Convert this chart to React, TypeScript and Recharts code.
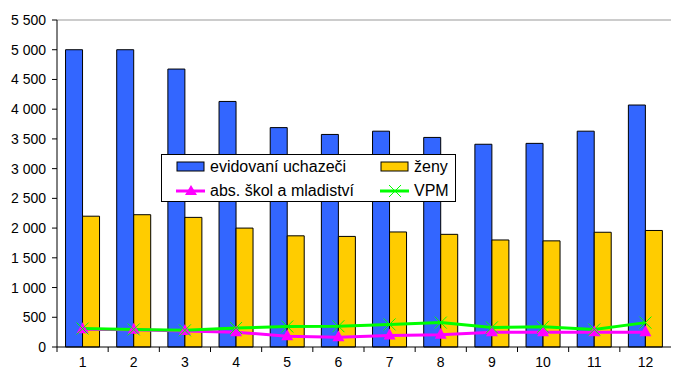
import {
  ComposedChart,
  Bar,
  Line,
  XAxis,
  YAxis,
  ReferenceLine,
  Legend,
} from "recharts";

const months = ["1", "2", "3", "4", "5", "6", "7", "8", "9", "10", "11", "12"];
const evidovani = [5000, 5000, 4675, 4130, 3690, 3575, 3630, 3525, 3410, 3425, 3630, 4070];
const zeny = [2200, 2225, 2180, 2000, 1870, 1860, 1935, 1895, 1800, 1785, 1930, 1960];
const absolventi = [300, 290, 270, 250, 180, 165, 195, 205, 250, 250, 250, 250];
const vpm = [310, 295, 280, 320, 345, 350, 380, 410, 330, 340, 295, 410];
const yTicks = [0, 500, 1000, 1500, 2000, 2500, 3000, 3500, 4000, 4500, 5000, 5500];

const data = months.map((m, i) => ({
  month: m,
  evidovani: evidovani[i],
  zeny: zeny[i],
  absolventi: absolventi[i],
  vpm: vpm[i],
}));

const BLUE = "#3366FF";
const YELLOW = "#FFCC00";
const MAGENTA = "#FF00FF";
const GREEN = "#00FF00";
const FONT = "'Liberation Sans', Arial, sans-serif";

const fmt = (v: number) => (v >= 1000 ? `${Math.floor(v / 1000)} ${String(v % 1000).padStart(3, "0")}` : `${v}`);

function Triangle(props: any) {
  const { cx, cy } = props;
  if (cx == null || cy == null) return null;
  return <path d={`M${cx},${cy - 7} L${cx + 6},${cy + 4} L${cx - 6},${cy + 4} Z`} fill={MAGENTA} />;
}

function Cross(props: any) {
  const { cx, cy } = props;
  if (cx == null || cy == null) return null;
  const s = 6;
  return (
    <g stroke={GREEN} strokeWidth={1}>
      <line x1={cx - s} y1={cy - s} x2={cx + s} y2={cy + s} />
      <line x1={cx - s} y1={cy + s} x2={cx + s} y2={cy - s} />
    </g>
  );
}

function MonthTick(props: any) {
  const { x, y, payload } = props;
  const half = payload.offset ?? 0;
  return (
    <g>
      <line x1={x - half} y1={y} x2={x - half} y2={y + 5} stroke="#000" />
      <text x={x} y={y + 20} textAnchor="middle" fontSize={14} fontFamily={FONT} fill="#000">
        {payload.value}
      </text>
    </g>
  );
}

function BarIcon({ color }: { color: string }) {
  return (
    <svg width={30} height={12} style={{ marginRight: 4 }}>
      <rect x={1} y={1} width={27} height={9} fill={color} stroke="#000" />
    </svg>
  );
}

function LineIcon({ kind }: { kind: "tri" | "x" }) {
  const color = kind === "tri" ? MAGENTA : GREEN;
  return (
    <svg width={30} height={14} style={{ marginRight: 4 }}>
      <line x1={0} y1={7} x2={29} y2={7} stroke={color} strokeWidth={3} />
      {kind === "tri" ? (
        <path d="M15,1 L21,11 L9,11 Z" fill={MAGENTA} />
      ) : (
        <g stroke={GREEN} strokeWidth={1}>
          <line x1={9} y1={1} x2={21} y2={13} />
          <line x1={9} y1={13} x2={21} y2={1} />
        </g>
      )}
    </svg>
  );
}

function LegendBox() {
  const item = { display: "flex", alignItems: "center", height: 24, whiteSpace: "nowrap" } as const;
  return (
    <div
      style={{
        background: "#fff",
        border: "1px solid #000",
        width: 295,
        height: 48,
        boxSizing: "border-box",
        fontFamily: FONT,
        fontSize: 16,
        color: "#000",
        display: "grid",
        gridTemplateColumns: "204px 75px",
        paddingLeft: 14,
      }}
    >
      <div style={item}><BarIcon color={BLUE} />evidovaní uchazeči</div>
      <div style={item}><BarIcon color={YELLOW} />ženy</div>
      <div style={item}><LineIcon kind="tri" />abs. škol a mladiství</div>
      <div style={item}><LineIcon kind="x" />VPM</div>
    </div>
  );
}

export default function App() {
  return (
    <div style={{ position: "absolute", left: 0, top: 0, width: 679, height: 367, background: "#fff" }}>
      <ComposedChart
        width={679}
        height={367}
        data={data}
        margin={{ top: 20, right: 8, left: 0, bottom: 0 }}
        barCategoryGap="16.7%"
        barGap={0}
      >
        <XAxis
          dataKey="month"
          height={20}
          tickSize={0}
          tickMargin={0}
          axisLine={{ stroke: "#000" }}
          tickLine={false}
          tick={<MonthTick />}
          interval={0}
        />
        <YAxis
          width={57}
          domain={[0, 5500]}
          ticks={yTicks}
          tickFormatter={fmt}
          tickSize={5}
          tickMargin={6}
          axisLine={{ stroke: "#000" }}
          tickLine={{ stroke: "#000" }}
          tick={{ fontSize: 14, fontFamily: FONT, fill: "#000" }}
          interval={0}
        />
        <ReferenceLine y={5500} stroke="#999" strokeWidth={1} />
        <Bar dataKey="evidovani" name="evidovaní uchazeči" fill={BLUE} stroke="#000" strokeWidth={1} isAnimationActive={false} />
        <Bar dataKey="zeny" name="ženy" fill={YELLOW} stroke="#000" strokeWidth={1} isAnimationActive={false} />
        <Line
          dataKey="absolventi"
          name="abs. škol a mladiství"
          type="linear"
          stroke={MAGENTA}
          strokeWidth={3}
          dot={<Triangle />}
          activeDot={false}
          isAnimationActive={false}
        />
        <Line
          dataKey="vpm"
          name="VPM"
          type="linear"
          stroke={GREEN}
          strokeWidth={3}
          dot={<Cross />}
          activeDot={false}
          isAnimationActive={false}
        />
        <Legend
          layout="horizontal"
          verticalAlign="middle"
          content={<LegendBox />}
          wrapperStyle={{ position: "absolute", left: 161, top: 154, width: 295, height: 48, bottom: "auto" }}
        />
      </ComposedChart>
    </div>
  );
}
